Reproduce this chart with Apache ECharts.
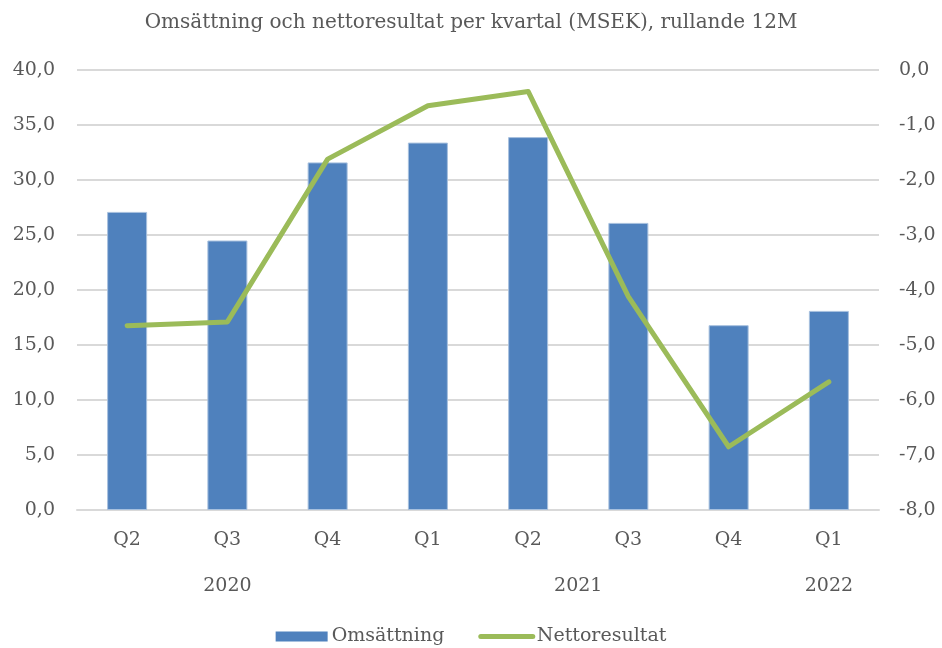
<!DOCTYPE html>
<html><head><meta charset="utf-8">
<script src="https://cdn.jsdelivr.net/npm/echarts@6/dist/echarts.min.js"></script>
<style>html,body{margin:0;padding:0;background:#fff}#c{width:942px;height:648px}</style>
</head><body><div id="c"></div>
<script>
const categories = ['Q2','Q3','Q4','Q1','Q2','Q3','Q4','Q1'];
const yearLabels = ['2020','2021','2022'];
const yearPositions = [1, 4.5, 7];
const omsattning = [27.1, 24.5, 31.6, 33.4, 33.9, 26.1, 16.8, 18.1];
const nettoresultat = [-4.65, -4.58, -1.62, -0.65, -0.39, -4.12, -6.85, -5.67];

const FONT = 'DejaVu Serif';
const TXT = '#595959';
const fmt = v => v.toFixed(1).replace('.', ',');

const chart = echarts.init(document.getElementById('c'), null, {renderer:'canvas'});
chart.setOption({
  animation:false,
  backgroundColor:'#fff',
  textStyle:{fontFamily:FONT},
  title:{text:'Omsättning och nettoresultat per kvartal (MSEK), rullande 12M', left:'center', top:8,
    textStyle:{fontFamily:FONT, fontSize:20, fontWeight:'normal', color:TXT}},
  legend:{bottom:-3, left:'center', itemWidth:52, itemHeight:10, itemGap:34,
    textStyle:{fontFamily:FONT, fontSize:19, color:TXT, padding:[0,0,0,-1]},
    data:[{name:'Omsättning', icon:'rect', itemStyle:{borderWidth:0}},
          {name:'Nettoresultat', itemStyle:{opacity:0}, lineStyle:{width:5, cap:'round'}}]},
  grid:{left:77, right:63, top:70, bottom:138},
  xAxis:[{
    type:'category', data:categories, boundaryGap:true,
    axisLine:{lineStyle:{color:'#d9d9d9', width:2}}, axisTick:{show:false},
    axisLabel:{fontFamily:FONT, fontSize:19, color:TXT, margin:21}
  },{
    type:'value', min:-0.5, max:7.5, position:'bottom', show:true,
    axisLine:{show:false}, axisTick:{show:false}, splitLine:{show:false},
    axisLabel:{fontFamily:FONT, fontSize:19, color:TXT, margin:67, customValues:yearPositions,
      formatter:(v)=>{const i=yearPositions.indexOf(v);return i>=0?yearLabels[i]:'';}}
  }],
  yAxis:[{
    type:'value', min:0, max:40, interval:5,
    axisLine:{show:false}, axisTick:{show:false},
    splitLine:{lineStyle:{color:'#d9d9d9', width:2}},
    axisLabel:{fontFamily:FONT, fontSize:19, color:TXT, margin:22, formatter:fmt}
  },{
    type:'value', min:-8, max:0, interval:1,
    axisLine:{show:false}, axisTick:{show:false}, splitLine:{show:false},
    axisLabel:{fontFamily:FONT, fontSize:19, color:TXT, margin:20, formatter:fmt}
  }],
  series:[{
    name:'Omsättning', type:'bar', data:omsattning, barWidth:40, xAxisIndex:0, yAxisIndex:0,
    itemStyle:{color:'#4f81bd', borderColor:'#a7c0de', borderWidth:1}
  },{
    name:'Nettoresultat', type:'line', data:nettoresultat, xAxisIndex:0, yAxisIndex:1,
    symbol:'none', lineStyle:{color:'#9bbb59', width:5, cap:'round', join:'round'},
    itemStyle:{color:'#9bbb59'}
  }]
});
</script></body></html>
